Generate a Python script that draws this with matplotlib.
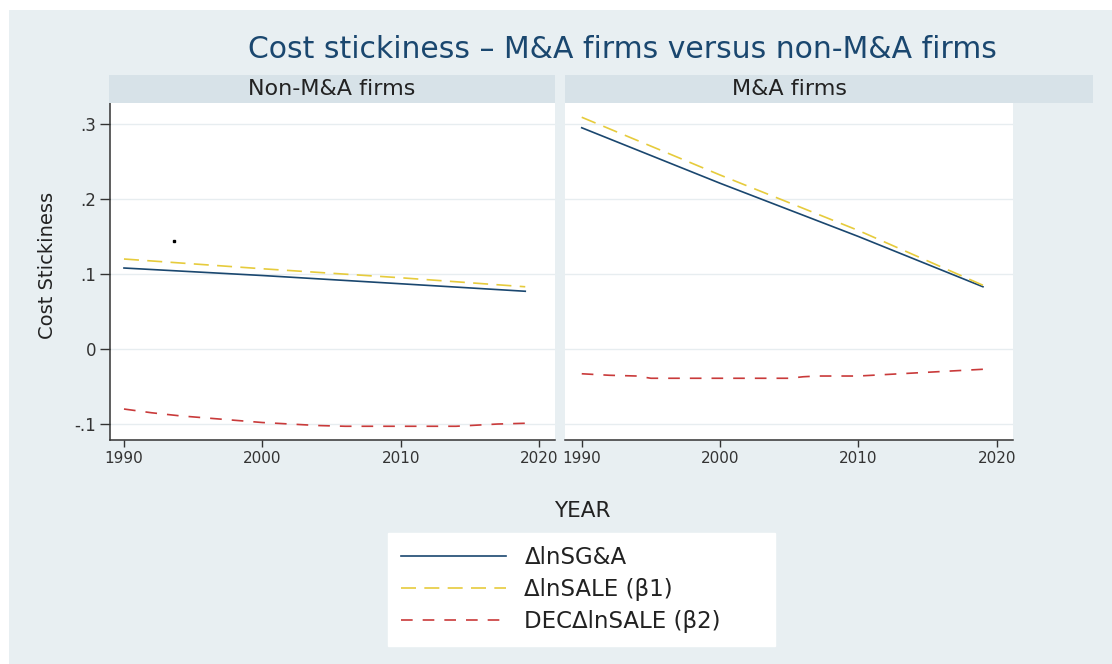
import matplotlib
matplotlib.use("Agg")
import matplotlib.pyplot as plt
from matplotlib.patches import Rectangle

# estimates by year, read per panel
years_fit = [1990, 2000, 2010, 2019]
sga_non = [0.108, 0.098, 0.087, 0.077]
sale_non = [0.120, 0.107, 0.095, 0.083]
sga_ma = [0.295, 0.221, 0.150, 0.083]
sale_ma = [0.309, 0.232, 0.158, 0.085]

years_dec_non = [1990, 1992, 1994, 1996, 1998, 2000, 2002, 2004, 2006, 2010, 2014, 2015, 2017, 2019]
dec_non = [-0.080, -0.085, -0.089, -0.092, -0.095, -0.098, -0.100, -0.102, -0.103, -0.103, -0.103, -0.102, -0.100, -0.099]
years_dec_ma = [1990, 1992, 1994, 1995, 2000, 2005, 2006, 2007, 2010, 2012, 2014, 2016, 2019]
dec_ma = [-0.033, -0.035, -0.036, -0.039, -0.039, -0.039, -0.037, -0.036, -0.036, -0.034, -0.032, -0.030, -0.027]

stray_x = [1993.6]
stray_y = [0.144]

panels = ["Non-M&A firms", "M&A firms"]
labels = ["\u0394lnSG&A", "\u0394lnSALE (\u03b21)", "DEC\u0394lnSALE (\u03b22)"]
yticks = [-0.1, 0, 0.1, 0.2, 0.3]
yticklabels = ["-.1", "0", ".1", ".2", ".3"]
xticks = [1990, 2000, 2010, 2020]

BG = "#e8eff2"
STRIP = "#d7e2e8"
GRID = "#e7edf0"
NAVY = "#1a476f"
GOLD = "#e6cb3c"
RED = "#c93a3a"
INK = "#333333"

W, H = 1112, 664
fig = plt.figure(figsize=(W / 100, H / 100), dpi=100)
fig.patch.set_facecolor("white")
fig.add_artist(Rectangle((9 / W, 0), 1, 1 - 10 / H, transform=fig.transFigure,
                         facecolor=BG, edgecolor="none", zorder=-10))


def fx(px):
    return px / W


def fy(py):
    return 1 - py / H


top, bottom = 103, 440
ax1 = fig.add_axes([fx(110), fy(bottom), fx(555 - 110), (bottom - top) / H])
ax2 = fig.add_axes([fx(565), fy(bottom), fx(1012.7 - 565), (bottom - top) / H])

# strips above each panel
for x0, x1 in [(109, 555), (565, 1093)]:
    fig.add_artist(Rectangle((fx(x0), fy(top)), fx(x1 - x0), (top - 75) / H,
                             transform=fig.transFigure, facecolor=STRIP,
                             edgecolor="none"))
fig.text(fx(332), fy(89), panels[0], ha="center", va="center", fontsize=16, color="#222222")
fig.text(fx(789), fy(89), panels[1], ha="center", va="center", fontsize=16, color="#222222")

lw = 1.2
series = [
    (ax1, sga_non, sale_non, years_dec_non, dec_non),
    (ax2, sga_ma, sale_ma, years_dec_ma, dec_ma),
]
handles = []
for ax, sga, sale, yd, dec in series:
    h1, = ax.plot(years_fit, sga, color=NAVY, lw=lw)
    h2, = ax.plot(years_fit, sale, color=GOLD, lw=lw, dashes=(9, 5))
    h3, = ax.plot(yd, dec, color=RED, lw=lw, dashes=(7, 6))
    if not handles:
        handles = [h1, h2, h3]

ax1.plot(stray_x, stray_y, "s", ms=1.8, color="black")

ax1.set_xlim(1988.99, 2021.15)
ax2.set_xlim(1988.79, 2021.15)
for ax in (ax1, ax2):
    ax.set_ylim(-0.1213, 0.328)
    ax.set_yticks(yticks)
    ax.set_xticks(xticks)
    ax.set_xticklabels([str(t) for t in xticks])
    ax.grid(axis="y", color=GRID, lw=1.0)
    ax.set_axisbelow(True)
    ax.spines["top"].set_visible(False)
    ax.spines["right"].set_visible(False)
    ax.spines["bottom"].set_color(INK)
    ax.spines["bottom"].set_linewidth(1.1)
    ax.tick_params(axis="x", direction="out", length=5, width=1, color=INK,
                   labelsize=11, labelcolor=INK, pad=3)

ax1.spines["left"].set_color(INK)
ax1.spines["left"].set_linewidth(1.1)
ax1.set_yticklabels(yticklabels)
ax1.tick_params(axis="y", direction="out", length=7, width=1, color=INK,
                labelsize=12, labelcolor=INK, pad=3)
ax2.spines["left"].set_visible(False)
ax2.tick_params(axis="y", length=0, labelleft=False)

fig.text(fx(48), fy(265), "Cost Stickiness", rotation=90, ha="center",
         va="center", fontsize=14, color="#222222")
fig.text(fx(582), fy(511), "YEAR", ha="center", va="center", fontsize=15.5, color="#222222")
fig.text(fx(622), fy(50), "Cost stickiness \u2013 M&A firms versus non-M&A firms",
         ha="center", va="center", fontsize=21.5, color=NAVY)

leg = fig.legend(handles, labels, loc="upper left",
                 bbox_to_anchor=(fx(388), fy(639), fx(775 - 388), (639 - 533) / H),
                 mode="expand", fontsize=16.5, handlelength=4.6, handletextpad=0.8,
                 labelspacing=0.4, borderpad=0.55, borderaxespad=0, frameon=True,
                 fancybox=False, framealpha=1)
leg.get_frame().set_facecolor("white")
leg.get_frame().set_edgecolor("white")
for t in leg.get_texts():
    t.set_color("#222222")

fig.savefig("out.png", dpi=100, facecolor=fig.get_facecolor())
